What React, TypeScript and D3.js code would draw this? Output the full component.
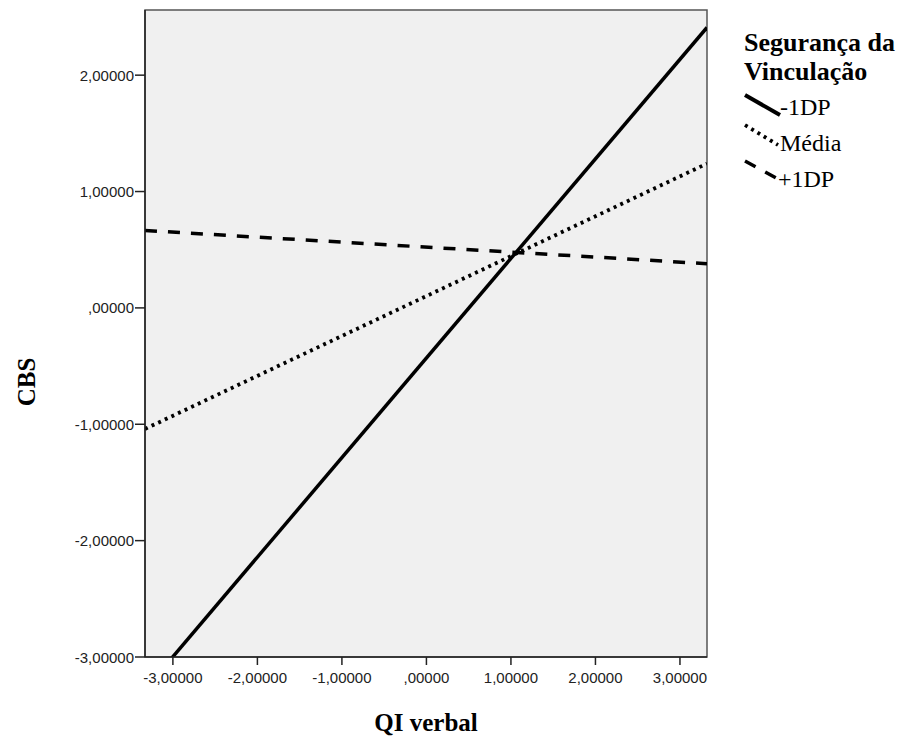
import React from 'react';
import * as d3 from 'd3';

// values
const xTicks = [-3, -2, -1, 0, 1, 2, 3];
const yTicks = [2, 1, 0, -1, -2, -3];
const xDomain = [-3.33, 3.32];
const yDomain = [-3, 2.56];
const groups = ['-1DP', 'Média', '+1DP'];
const lowLine = [-3.28, 2.41];   // -1DP at xDomain ends
const meanLine = [-1.04, 1.24];  // Média
const highLine = [0.665, 0.38];  // +1DP

const W = 904;
const H = 743;
const plot = { left: 145, right: 707, top: 10, bottom: 657 };

// SPSS style: comma decimal, hyphen minus, no leading zero for 0
const fmt = (v: number) => {
  const s = d3.format('.5f')(Math.abs(v)).replace('.', ',');
  return (v < 0 ? '-' : '') + (v === 0 ? s.replace(/^0/, '') : s);
};

const styles = [
  { dash: 'none', width: 3.5 },
  { dash: '3 4.3', width: 3.8 },
  { dash: '12 11', width: 3.5 },
];

export default function App() {
  const x = d3.scaleLinear().domain(xDomain).range([plot.left, plot.right]);
  const y = d3.scaleLinear().domain(yDomain).range([plot.bottom, plot.top]);
  const line = d3.line<[number, number]>().x(d => x(d[0])).y(d => y(d[1]));

  const series = [lowLine, meanLine, highLine].map(vals =>
    xDomain.map((xv, i) => [xv, vals[i]] as [number, number])
  );

  const sans = '"Liberation Sans", Arial, sans-serif';
  const serif = '"Liberation Serif", "Times New Roman", serif';

  return (
    <svg width={W} height={H} style={{ position: 'absolute', left: 0, top: 0 }}>
      <rect width={W} height={H} fill="#fff" />
      <defs>
        <clipPath id="plotClip">
          <rect x={plot.left} y={plot.top} width={plot.right - plot.left} height={plot.bottom - plot.top} />
        </clipPath>
      </defs>
      <rect
        x={plot.left}
        y={plot.top}
        width={plot.right - plot.left}
        height={plot.bottom - plot.top}
        fill="#f0f0f0"
        stroke="#555"
        strokeWidth={1.5}
      />

      <g clipPath="url(#plotClip)">
        {series.map((s, i) => (
          <path
            key={groups[i]}
            d={line(s) || ''}
            fill="none"
            stroke="#000"
            strokeWidth={styles[i].width}
            strokeDasharray={styles[i].dash}
          />
        ))}
      </g>

      {/* axes */}
      <line x1={plot.left} x2={plot.left} y1={plot.top} y2={plot.bottom} stroke="#222" strokeWidth={1.5} />
      <line x1={plot.left} x2={plot.right} y1={plot.bottom} y2={plot.bottom} stroke="#222" strokeWidth={1.5} />

      {yTicks.map(t => (
        <g key={'y' + t}>
          <line x1={plot.left - 10} x2={plot.left} y1={y(t)} y2={y(t)} stroke="#222" strokeWidth={1.5} />
          <text x={plot.left - 11} y={y(t) + 5.5} textAnchor="end" fontFamily={sans} fontSize={15} fill="#222">
            {fmt(t)}
          </text>
        </g>
      ))}
      {xTicks.map(t => (
        <g key={'x' + t}>
          <line x1={x(t)} x2={x(t)} y1={plot.bottom} y2={plot.bottom + 8} stroke="#222" strokeWidth={1.5} />
          <text x={x(t)} y={plot.bottom + 26} textAnchor="middle" fontFamily={sans} fontSize={15} fill="#222">
            {fmt(t)}
          </text>
        </g>
      ))}

      <text x={(plot.left + plot.right) / 2} y={731} textAnchor="middle" fontFamily={serif} fontWeight="bold" fontSize={25}>
        QI verbal
      </text>
      <text
        transform={`translate(35,${382}) rotate(-90)`}
        textAnchor="middle"
        fontFamily={serif}
        fontWeight="bold"
        fontSize={25}
      >
        CBS
      </text>

      {/* legend */}
      <g fontFamily={serif}>
        <text x={744} y={51} fontWeight="bold" fontSize={26}>Segurança da</text>
        <text x={744} y={80} fontWeight="bold" fontSize={26}>Vinculação</text>
        <line x1={745} y1={95} x2={780} y2={115} stroke="#000" strokeWidth={4} />
        <text x={780} y={115} fontSize={24}>{groups[0]}</text>
        <line x1={745} y1={125} x2={778} y2={145} stroke="#000" strokeWidth={3.8} strokeDasharray="3 4.3" />
        <text x={780} y={151} fontSize={24}>{groups[1]}</text>
        <line x1={745} y1={161} x2={778} y2={179} stroke="#000" strokeWidth={3.5} strokeDasharray="12 11" />
        <text x={778} y={187} fontSize={24}>{groups[2]}</text>
      </g>
    </svg>
  );
}
